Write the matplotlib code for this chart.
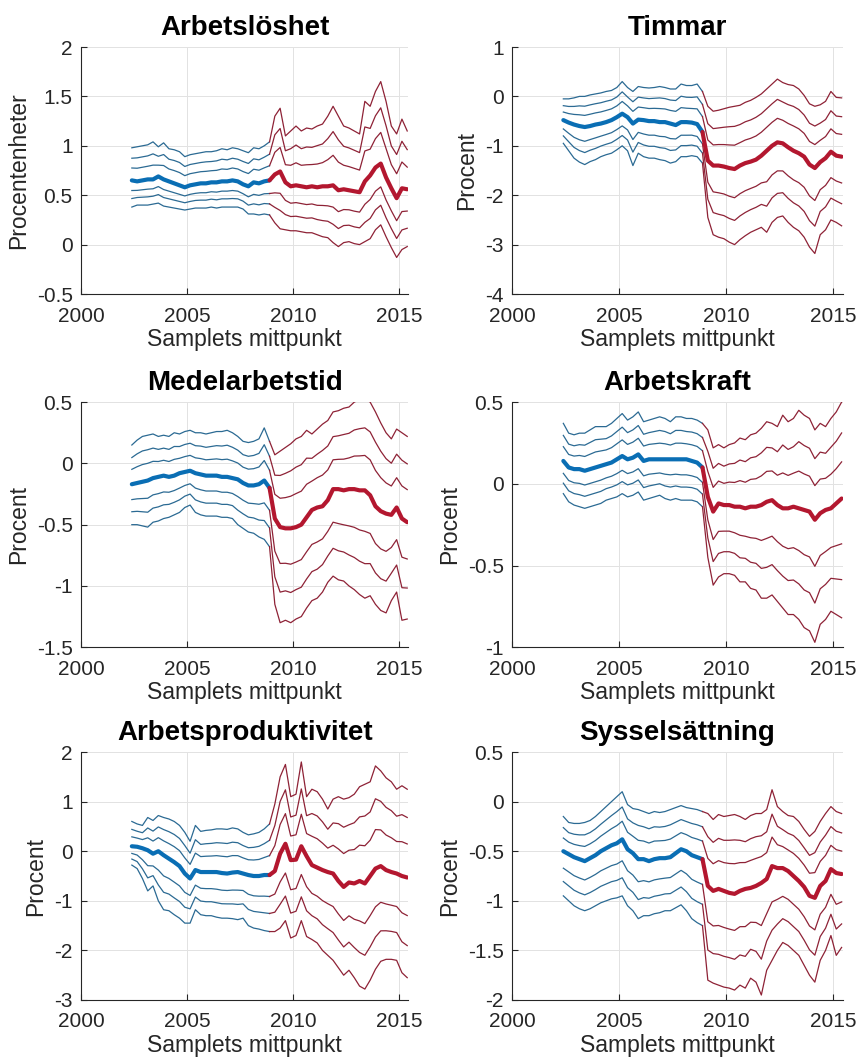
import numpy as np
import matplotlib
matplotlib.use("Agg")
import matplotlib.pyplot as plt

plt.rcParams["font.family"] = ["Liberation Sans", "DejaVu Sans"]
plt.rcParams["axes.unicode_minus"] = False

# sample midpoints, quarterly steps
t = [2002.40, 2002.65, 2002.90, 2003.15, 2003.40, 2003.65, 2003.90, 2004.15, 2004.40, 2004.65,
     2004.90, 2005.15, 2005.40, 2005.65, 2005.90, 2006.15, 2006.40, 2006.65, 2006.90, 2007.15,
     2007.40, 2007.65, 2007.90, 2008.15, 2008.40, 2008.65, 2008.90, 2009.15, 2009.40, 2009.65,
     2009.90, 2010.15, 2010.40, 2010.65, 2010.90, 2011.15, 2011.40, 2011.65, 2011.90, 2012.15,
     2012.40, 2012.65, 2012.90, 2013.15, 2013.40, 2013.65, 2013.90, 2014.15, 2014.40, 2014.65,
     2014.90, 2015.15, 2015.40]
SPLIT = 26  # last sample before the crisis period (blue -> red)

# position of the inner percentile lines between median and outer band
BAND_FRACS = [0.38, 0.68, 1.0]

# Arbetslöshet
arb_med = [0.65, 0.64, 0.65, 0.66, 0.66, 0.69, 0.66, 0.64, 0.62, 0.60, 0.58, 0.60, 0.61, 0.62, 0.62, 0.63, 0.63, 0.64,
           0.64, 0.65, 0.64, 0.61, 0.59, 0.63, 0.62, 0.64, 0.65,
           0.71, 0.74, 0.63, 0.59, 0.60, 0.59, 0.58, 0.59, 0.58, 0.59, 0.59, 0.60, 0.55, 0.56, 0.55, 0.54, 0.53,
           0.64, 0.70, 0.78, 0.82, 0.68, 0.57, 0.47, 0.57, 0.56]
arb_hi = [0.98, 0.99, 1.00, 1.01, 1.04, 0.99, 1.03, 0.97, 0.96, 0.94, 0.89, 0.91, 0.92, 0.93, 0.94, 0.94, 0.95, 0.97,
          0.96, 0.98, 0.97, 0.95, 0.93, 0.98, 0.97, 1.00, 1.04,
          1.30, 1.38, 1.10, 1.15, 1.20, 1.15, 1.18, 1.17, 1.20, 1.22, 1.30, 1.40, 1.30, 1.20, 1.18, 1.15, 1.12,
          1.45, 1.40, 1.55, 1.65, 1.45, 1.20, 1.12, 1.27, 1.15]
arb_lo = [0.38, 0.40, 0.40, 0.40, 0.41, 0.42, 0.39, 0.38, 0.37, 0.36, 0.35, 0.36, 0.37, 0.37, 0.37, 0.38, 0.37, 0.38,
          0.38, 0.38, 0.38, 0.36, 0.31, 0.31, 0.30, 0.31, 0.30,
          0.22, 0.16, 0.15, 0.14, 0.14, 0.13, 0.12, 0.12, 0.10, 0.08, 0.07, 0.02, -0.02, 0.02, 0.03, 0.01, 0.00,
          0.03, 0.06, 0.15, 0.20, 0.08, -0.03, -0.13, -0.05, -0.02]

# Timmar
tim_med = [-0.48, -0.53, -0.57, -0.60, -0.62, -0.60, -0.57, -0.55, -0.52, -0.48, -0.42, -0.35, -0.42, -0.55, -0.47,
           -0.48, -0.50, -0.50, -0.52, -0.52, -0.55, -0.58, -0.52, -0.52, -0.53, -0.56, -0.72,
           -1.30, -1.40, -1.40, -1.42, -1.45, -1.47, -1.40, -1.35, -1.32, -1.28, -1.20, -1.10, -1.00, -0.93, -0.95,
           -1.03, -1.10, -1.15, -1.22, -1.38, -1.45, -1.33, -1.25, -1.12, -1.20, -1.22]
tim_hi = [-0.05, -0.05, -0.03, 0.00, 0.00, 0.03, 0.05, 0.07, 0.10, 0.12, 0.18, 0.30, 0.18, 0.10, 0.20, 0.18, 0.17,
          0.18, 0.20, 0.18, 0.15, 0.15, 0.25, 0.22, 0.22, 0.25, 0.10,
          -0.20, -0.30, -0.28, -0.25, -0.22, -0.20, -0.18, -0.12, -0.08, -0.02, 0.05, 0.15, 0.25, 0.35, 0.28, 0.24,
          0.22, 0.15, 0.02, -0.15, -0.20, -0.17, -0.10, 0.10, -0.02, -0.03]
tim_lo = [-0.95, -1.10, -1.25, -1.33, -1.38, -1.32, -1.28, -1.22, -1.18, -1.15, -1.08, -1.00, -1.10, -1.40, -1.15,
          -1.22, -1.25, -1.25, -1.28, -1.30, -1.35, -1.32, -1.22, -1.22, -1.20, -1.22, -1.35,
          -2.45, -2.80, -2.85, -2.88, -2.95, -3.00, -2.90, -2.82, -2.75, -2.70, -2.65, -2.75, -2.55, -2.45, -2.42,
          -2.55, -2.65, -2.72, -2.85, -3.05, -3.18, -2.80, -2.70, -2.50, -2.55, -2.62]

# Medelarbetstid
med_med = [-0.17, -0.16, -0.15, -0.14, -0.12, -0.11, -0.10, -0.11, -0.10, -0.08, -0.07, -0.06, -0.08, -0.09, -0.10,
           -0.10, -0.10, -0.11, -0.11, -0.12, -0.13, -0.16, -0.18, -0.18, -0.17, -0.14, -0.20,
           -0.45, -0.52, -0.53, -0.53, -0.52, -0.50, -0.44, -0.38, -0.36, -0.35, -0.30, -0.21, -0.21, -0.22, -0.21,
           -0.21, -0.22, -0.22, -0.26, -0.35, -0.39, -0.41, -0.42, -0.36, -0.45, -0.48]
med_hi = [0.15, 0.19, 0.22, 0.23, 0.24, 0.22, 0.23, 0.22, 0.25, 0.24, 0.26, 0.27, 0.25, 0.25, 0.24, 0.25, 0.26, 0.26,
          0.27, 0.25, 0.22, 0.18, 0.17, 0.18, 0.20, 0.29, 0.18,
          0.07, 0.10, 0.13, 0.16, 0.20, 0.22, 0.27, 0.24, 0.28, 0.32, 0.35, 0.42, 0.43, 0.45, 0.46, 0.50, 0.52,
          0.53, 0.50, 0.42, 0.33, 0.25, 0.20, 0.28, 0.25, 0.22]
med_lo = [-0.50, -0.50, -0.51, -0.52, -0.48, -0.47, -0.45, -0.44, -0.42, -0.40, -0.36, -0.34, -0.40, -0.42, -0.43,
          -0.43, -0.43, -0.44, -0.44, -0.45, -0.50, -0.53, -0.56, -0.57, -0.60, -0.62, -0.68,
          -1.15, -1.30, -1.28, -1.30, -1.27, -1.25, -1.18, -1.12, -1.10, -1.05, -0.97, -0.92, -0.95, -0.96, -1.00,
          -1.03, -1.07, -1.10, -1.08, -1.15, -1.20, -1.22, -1.12, -1.05, -1.28, -1.27]

# Arbetskraft
ak_med = [0.14, 0.10, 0.09, 0.09, 0.08, 0.09, 0.10, 0.11, 0.12, 0.13, 0.15, 0.17, 0.15, 0.16, 0.18, 0.14, 0.15, 0.15,
          0.15, 0.15, 0.15, 0.15, 0.15, 0.15, 0.14, 0.13, 0.10,
          -0.08, -0.17, -0.12, -0.13, -0.13, -0.14, -0.14, -0.15, -0.14, -0.14, -0.13, -0.11, -0.10, -0.13, -0.15,
          -0.15, -0.14, -0.15, -0.16, -0.17, -0.22, -0.18, -0.16, -0.15, -0.12, -0.09]
ak_hi = [0.37, 0.31, 0.30, 0.31, 0.31, 0.33, 0.35, 0.35, 0.35, 0.37, 0.40, 0.43, 0.39, 0.41, 0.44, 0.38, 0.39, 0.40,
         0.41, 0.40, 0.38, 0.41, 0.41, 0.40, 0.40, 0.39, 0.37,
         0.33, 0.22, 0.24, 0.22, 0.24, 0.25, 0.28, 0.27, 0.30, 0.31, 0.34, 0.38, 0.37, 0.35, 0.42, 0.38, 0.40,
         0.45, 0.42, 0.40, 0.33, 0.37, 0.35, 0.40, 0.44, 0.50]
ak_lo = [-0.06, -0.11, -0.13, -0.14, -0.15, -0.14, -0.13, -0.12, -0.10, -0.09, -0.08, -0.06, -0.08, -0.07, -0.05,
         -0.10, -0.09, -0.08, -0.07, -0.09, -0.10, -0.09, -0.10, -0.10, -0.10, -0.11, -0.14,
         -0.45, -0.62, -0.57, -0.55, -0.55, -0.56, -0.60, -0.60, -0.64, -0.65, -0.70, -0.70, -0.68, -0.72, -0.76,
         -0.80, -0.80, -0.83, -0.88, -0.90, -0.97, -0.86, -0.83, -0.78, -0.80, -0.82]

# Arbetsproduktivitet
ap_med = [0.10, 0.09, 0.06, 0.02, -0.05, 0.00, -0.08, -0.15, -0.22, -0.30, -0.45, -0.55, -0.38, -0.42, -0.42, -0.42,
          -0.42, -0.44, -0.45, -0.43, -0.42, -0.45, -0.48, -0.50, -0.50, -0.48, -0.48,
          -0.40, -0.05, 0.15, -0.18, -0.17, 0.10, -0.10, -0.28, -0.33, -0.38, -0.42, -0.45, -0.60, -0.72, -0.63,
          -0.65, -0.60, -0.65, -0.50, -0.35, -0.30, -0.38, -0.42, -0.45, -0.50, -0.53]
ap_hi = [0.60, 0.55, 0.52, 0.68, 0.62, 0.72, 0.68, 0.65, 0.60, 0.52, 0.38, 0.20, 0.52, 0.40, 0.42, 0.43, 0.45, 0.45,
         0.44, 0.47, 0.45, 0.38, 0.33, 0.35, 0.38, 0.45, 0.55,
         0.95, 1.50, 1.75, 1.10, 1.15, 1.80, 1.10, 1.25, 1.20, 1.05, 0.85, 1.05, 1.10, 1.05, 1.08, 1.15, 1.30,
         1.35, 1.40, 1.72, 1.62, 1.48, 1.40, 1.25, 1.32, 1.25]
ap_lo = [-0.28, -0.35, -0.55, -0.80, -0.70, -1.00, -1.18, -1.20, -1.28, -1.35, -1.45, -1.45, -1.18, -1.28, -1.30,
         -1.30, -1.33, -1.35, -1.35, -1.36, -1.38, -1.35, -1.50, -1.55, -1.57, -1.60, -1.62,
         -1.62, -1.55, -1.40, -1.75, -1.70, -1.40, -1.72, -1.78, -1.85, -2.00, -2.10, -2.20, -2.35, -2.50, -2.40,
         -2.55, -2.72, -2.78, -2.60, -2.38, -2.22, -2.18, -2.18, -2.20, -2.45, -2.55]

# Sysselsättning
sy_med = [-0.50, -0.53, -0.56, -0.58, -0.60, -0.57, -0.54, -0.50, -0.47, -0.44, -0.42, -0.38, -0.48, -0.52, -0.58,
          -0.58, -0.60, -0.58, -0.57, -0.57, -0.56, -0.52, -0.48, -0.50, -0.54, -0.56, -0.58,
          -0.85, -0.90, -0.88, -0.90, -0.92, -0.93, -0.90, -0.88, -0.87, -0.85, -0.82, -0.78, -0.65, -0.67, -0.67,
          -0.70, -0.75, -0.80, -0.86, -0.95, -0.97, -0.85, -0.80, -0.68, -0.72, -0.73]
sy_hi = [-0.15, -0.21, -0.22, -0.22, -0.21, -0.19, -0.15, -0.10, -0.05, 0.00, 0.05, 0.10, -0.03, -0.07, -0.08, -0.10,
         -0.12, -0.10, -0.11, -0.10, -0.08, -0.06, -0.04, -0.06, -0.07, -0.08, -0.10,
         -0.12, -0.18, -0.13, -0.15, -0.14, -0.13, -0.15, -0.18, -0.14, -0.12, -0.12, -0.08, 0.12, -0.05, -0.10,
         -0.14, -0.15, -0.20, -0.28, -0.35, -0.30, -0.20, -0.12, -0.05, -0.10, -0.12]
sy_lo = [-0.95, -1.00, -1.05, -1.08, -1.10, -1.08, -1.05, -1.02, -1.00, -0.98, -0.97, -0.95, -1.05, -1.10, -1.18,
         -1.15, -1.15, -1.13, -1.12, -1.10, -1.10, -1.07, -1.04, -1.10, -1.18, -1.22, -1.25,
         -1.80, -1.83, -1.85, -1.87, -1.88, -1.90, -1.85, -1.88, -1.78, -1.82, -1.95, -1.70, -1.60, -1.50, -1.42,
         -1.45, -1.50, -1.55, -1.65, -1.75, -1.82, -1.60, -1.50, -1.35, -1.55, -1.47]

BLUE, BLUE_THIN = "#0a6eb4", "#2b6a93"
RED, RED_THIN = "#b3172f", "#8e2236"


def draw_panel(ax, title, ylabel, med, hi, lo, ylim, yticks):
    x = np.array(t)
    med, hi, lo = np.array(med), np.array(hi), np.array(lo)
    seg_old = slice(0, SPLIT + 1)
    seg_new = slice(SPLIT, None)
    for f in BAND_FRACS:
        for band in (med + f * (hi - med), med + f * (lo - med)):
            ax.plot(x[seg_old], band[seg_old], color=BLUE_THIN, lw=0.9)
            ax.plot(x[seg_new], band[seg_new], color=RED_THIN, lw=0.9)
    ax.plot(x[seg_old], med[seg_old], color=BLUE, lw=3.0, solid_capstyle="round")
    ax.plot(x[seg_new], med[seg_new], color=RED, lw=3.0, solid_capstyle="round")

    ax.set_xlim(2000, 2015.45)
    ax.set_ylim(*ylim)
    ax.set_xticks([2000, 2005, 2010, 2015])
    ax.set_yticks(yticks)
    ax.set_yticklabels([("%g" % v) for v in yticks])
    ax.grid(True, color="#e2e2e2", linewidth=0.7)
    ax.set_axisbelow(True)
    for side in ("top", "right"):
        ax.spines[side].set_visible(False)
    for side in ("left", "bottom"):
        ax.spines[side].set_color("#262626")
        ax.spines[side].set_linewidth(0.8)
    ax.tick_params(direction="in", length=4, width=0.8, colors="#262626", labelsize=15)
    ax.tick_params(axis="x", pad=9)
    ax.tick_params(axis="y", pad=6)
    ax.set_title(title, fontsize=20, fontweight="bold", pad=9)
    ax.set_xlabel("Samplets mittpunkt", fontsize=16.5, color="#262626", labelpad=2)
    ax.set_ylabel(ylabel, fontsize=16.5, color="#262626", labelpad=5)


fig = plt.figure(figsize=(8.59, 10.61), dpi=100)
fig.patch.set_facecolor("white")

cols = [0.0943, 0.596]
widths = [0.381, 0.385]
rows = [0.7229, 0.390, 0.0575]
heights = [0.2328, 0.231, 0.2337]

panels = [
    ("Arbetslöshet", "Procentenheter", arb_med, arb_hi, arb_lo, (-0.5, 2), [-0.5, 0, 0.5, 1, 1.5, 2]),
    ("Timmar", "Procent", tim_med, tim_hi, tim_lo, (-4, 1), [-4, -3, -2, -1, 0, 1]),
    ("Medelarbetstid", "Procent", med_med, med_hi, med_lo, (-1.5, 0.5), [-1.5, -1, -0.5, 0, 0.5]),
    ("Arbetskraft", "Procent", ak_med, ak_hi, ak_lo, (-1, 0.5), [-1, -0.5, 0, 0.5]),
    ("Arbetsproduktivitet", "Procent", ap_med, ap_hi, ap_lo, (-3, 2), [-3, -2, -1, 0, 1, 2]),
    ("Sysselsättning", "Procent", sy_med, sy_hi, sy_lo, (-2, 0.5), [-2, -1.5, -1, -0.5, 0, 0.5]),
]

for i, (title, ylabel, med, hi, lo, ylim, yticks) in enumerate(panels):
    r, c = divmod(i, 2)
    ax = fig.add_axes([cols[c], rows[r], widths[c], heights[r]])
    draw_panel(ax, title, ylabel, med, hi, lo, ylim, yticks)

fig.savefig("out.png", dpi=100)
